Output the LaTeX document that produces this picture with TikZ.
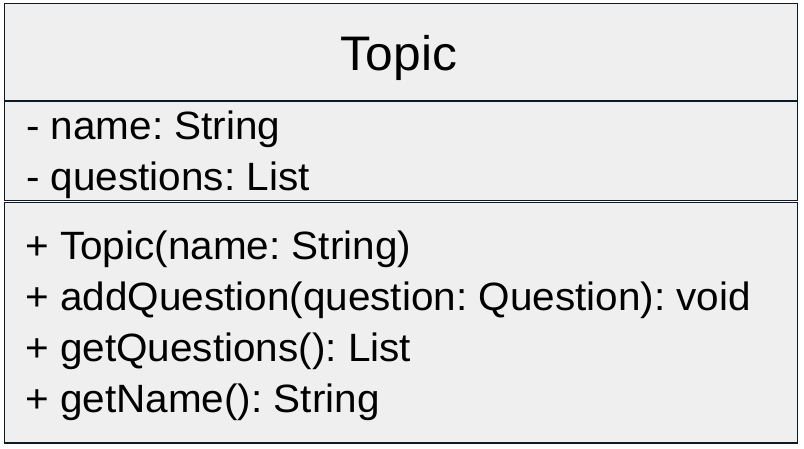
\documentclass[tikz,border=0pt]{standalone}
\usepackage{fontspec}
\setmainfont{Liberation Sans}[FakeStretch=1.025]
\frenchspacing
\begin{document}
\definecolor{boxfill}{HTML}{EFEFEF}
\definecolor{boxline}{HTML}{0E1A28}
\begin{tikzpicture}[x=1pt,y=1pt,
  compartment/.style={draw=boxline,fill=boxfill,line width=1.1pt},
  titletext/.style={inner sep=0pt,anchor=base,font=\fontsize{48.5}{58}\selectfont},
  membertext/.style={inner sep=0pt,anchor=base west,font=\fontsize{39.5}{47}\selectfont}]
\useasboundingbox (0,0) rectangle (804,-448);
% class compartments
\draw[compartment] (4.3,-3.3) rectangle (797.7,-101) coordinate (titlebox);
\draw[compartment] (4.3,-101) rectangle (797.7,-200.7) coordinate (attrbox);
\draw[compartment] (4.3,-202.3) rectangle (797.7,-443) coordinate (opbox);
% class name
\node[titletext] (name) at (399,-70) {Topic};
% attributes
\node[membertext] (a1) at (26,-139) {- name: String};
\node[membertext] (a2) at (26,-190.5) {- questions: List};
% operations
\node[membertext] (m1) at (25,-259) {+ Topic(name: String)};
\node[membertext] (m2) at (25,-310) {+ addQuestion(question: Question): void};
\node[membertext] (m3) at (25,-361) {+ getQuestions(): List};
\node[membertext] (m4) at (25,-412) {+ getName(): String};
\end{tikzpicture}
\end{document}
